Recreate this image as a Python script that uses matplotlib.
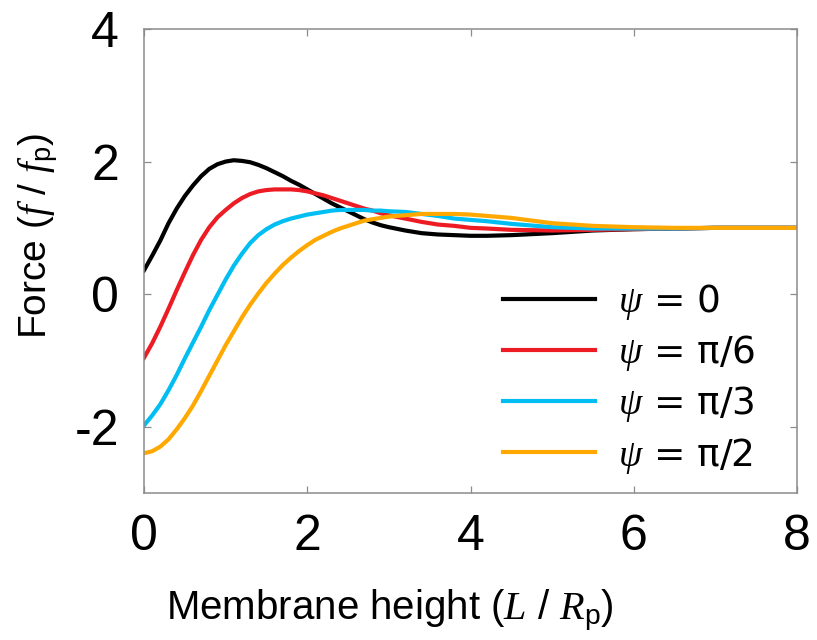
import matplotlib
matplotlib.use('Agg')
import matplotlib.pyplot as plt

# membrane height L / R_p
height = [0.0, 0.1, 0.2, 0.3, 0.4, 0.5, 0.6, 0.7, 0.8, 0.9,
          1.0, 1.1, 1.2, 1.3, 1.4, 1.5, 1.6, 1.7, 1.8, 1.9,
          2.0, 2.1, 2.2, 2.3, 2.4, 2.5, 2.6, 2.7, 2.8, 2.9,
          3.0, 3.2, 3.4, 3.6, 3.8, 4.0, 4.2, 4.5,
          5.0, 5.5, 6.0, 6.5, 7.0, 7.5, 8.0]

# force f / f_p for each tilt angle psi
force_psi_0 = [0.36, 0.58, 0.81, 1.07, 1.29, 1.48, 1.64, 1.78, 1.89, 1.96,
               2.00, 2.02, 2.01, 1.99, 1.95, 1.90, 1.84, 1.78, 1.71, 1.65,
               1.58, 1.51, 1.44, 1.37, 1.31, 1.25, 1.19, 1.13, 1.08, 1.04,
               1.01, 0.96, 0.92, 0.90, 0.89, 0.88, 0.88, 0.89,
               0.92, 0.96, 0.98, 0.99, 1.00, 1.00, 1.00]
force_psi_30 = [-0.96, -0.74, -0.49, -0.22, 0.06, 0.33, 0.59, 0.82, 1.01, 1.16,
                1.27, 1.37, 1.45, 1.51, 1.55, 1.57, 1.58, 1.58, 1.58, 1.57,
                1.55, 1.52, 1.49, 1.45, 1.41, 1.37, 1.33, 1.29, 1.26, 1.22,
                1.19, 1.14, 1.09, 1.05, 1.03, 1.00, 0.99, 0.97,
                0.96, 0.97, 0.98, 0.99, 1.00, 1.00, 1.00]
force_psi_60 = [-1.98, -1.83, -1.66, -1.45, -1.22, -0.97, -0.73, -0.49, -0.24, -0.01,
                0.22, 0.43, 0.61, 0.77, 0.89, 0.98, 1.05, 1.10, 1.14, 1.17,
                1.20, 1.22, 1.24, 1.26, 1.27, 1.27, 1.27, 1.27, 1.26, 1.26,
                1.25, 1.24, 1.21, 1.18, 1.14, 1.12, 1.10, 1.06,
                1.01, 0.99, 0.99, 0.99, 1.00, 1.00, 1.00]
force_psi_90 = [-2.40, -2.37, -2.30, -2.19, -2.04, -1.87, -1.68, -1.46, -1.23, -1.00,
                -0.77, -0.56, -0.35, -0.16, 0.01, 0.17, 0.31, 0.44, 0.55, 0.65,
                0.74, 0.82, 0.88, 0.94, 0.99, 1.03, 1.07, 1.11, 1.13, 1.15,
                1.17, 1.19, 1.21, 1.21, 1.21, 1.20, 1.18, 1.15,
                1.07, 1.03, 1.01, 1.00, 1.00, 1.00, 1.00]

labels = [r'$\psi$ = 0', r'$\psi$ = π/6', r'$\psi$ = π/3', r'$\psi$ = π/2']
colors = ['black', '#ed1c24', '#00bef2', '#ffa800']

xticks = [0, 2, 4, 6, 8]
yticks = [-2, 0, 2, 4]


def main():
    plt.rcParams['font.family'] = ['Liberation Sans', 'DejaVu Sans']
    plt.rcParams['mathtext.fontset'] = 'custom'
    plt.rcParams['mathtext.rm'] = 'Liberation Sans'
    plt.rcParams['mathtext.it'] = 'Liberation Serif:italic'
    plt.rcParams['axes.unicode_minus'] = False

    fig = plt.figure(figsize=(8.17, 6.40), dpi=100)
    ax = fig.add_axes([0.1763, 0.2297, 0.7992, 0.7250])

    series = [force_psi_0, force_psi_30, force_psi_60, force_psi_90]
    for ys, c, lab in zip(series, colors, labels):
        ax.plot(height, ys, color=c, lw=3, label=lab)

    ax.set_xlim(0, 8)
    ax.set_ylim(-3, 4)
    ax.set_xticks(xticks)
    ax.set_yticks(yticks)

    for s in ax.spines.values():
        s.set_color('#8c8c8c')
        s.set_linewidth(1.1)
    ax.tick_params(direction='in', length=5, width=0.9, color='#8c8c8c',
                   top=True, right=True, labelsize=36)
    ax.tick_params(axis='x', pad=15)
    ax.tick_params(axis='y', pad=18)

    ax.set_xlabel(r'Membrane height ($L$ / $R_{\mathrm{p}}$)', fontsize=29)
    ax.set_ylabel(r'Force ($f$ / $f_{\mathrm{p}}$)', fontsize=28)
    ax.xaxis.set_label_coords(0.377, -0.205)
    ax.yaxis.set_label_coords(-0.127, 0.554)

    ax.legend(loc='upper left', bbox_to_anchor=(0.55, 0.455), frameon=False,
              prop={'family': ['DejaVu Sans'], 'size': 27},
              handlelength=2.45, handletextpad=0.6,
              labelspacing=0.3, borderpad=0, borderaxespad=0)

    fig.savefig('out.png', dpi=100)


if __name__ == '__main__':
    main()
